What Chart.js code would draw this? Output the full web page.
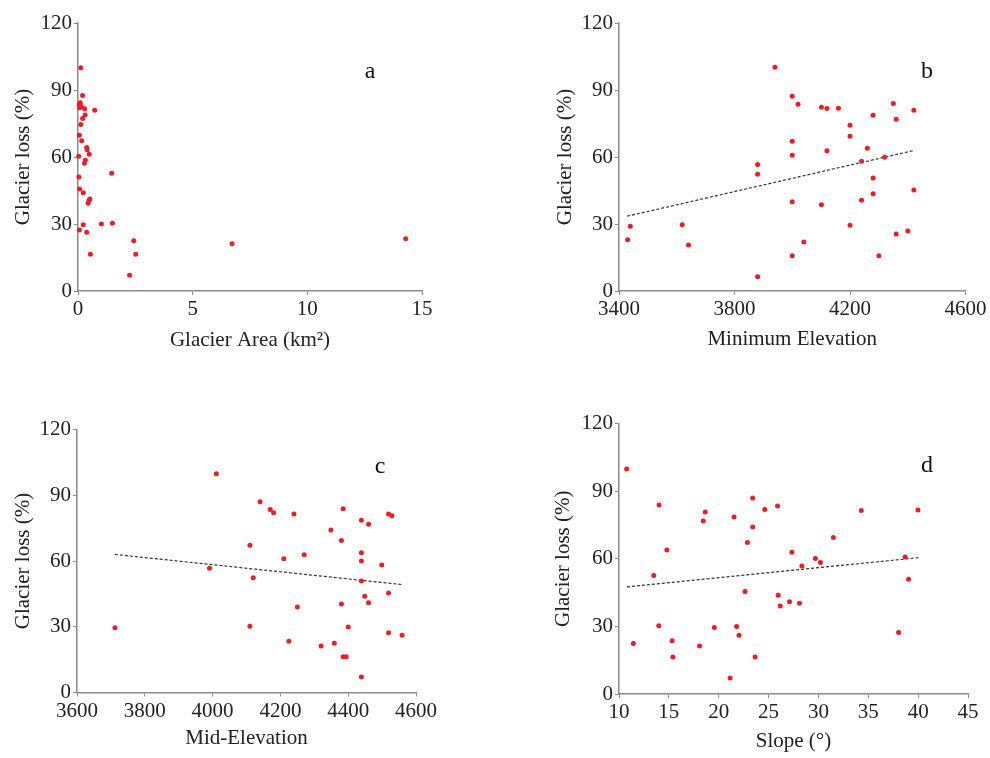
<!DOCTYPE html>
<html>
<head>
<meta charset="utf-8">
<script src="https://cdn.jsdelivr.net/npm/chart.js@4.4.1/dist/chart.umd.min.js"></script>
<style>
  html, body { margin: 0; padding: 0; background: #fff; }
  #wrap { position: relative; width: 990px; height: 758px; }
  canvas { position: absolute; }
</style>
</head>
<body>
<div id="wrap">
  <canvas id="ca" width="495" height="379" style="left:0;top:0"></canvas>
  <canvas id="cb" width="495" height="379" style="left:495px;top:0"></canvas>
  <canvas id="cc" width="495" height="379" style="left:0;top:379px"></canvas>
  <canvas id="cd" width="495" height="379" style="left:495px;top:379px"></canvas>
</div>
<script>
// glacier loss (%) against four glacier attributes
const areaX = [0.12, 0.2, 0.1, 0.05, 0.15, 0.08, 0.29, 0.73, 0.31, 0.2, 0.12, 0.06, 0.16, 0.38, 0.40, 0.49, 0.03, 0.32, 0.28, 1.47, 0.04, 0.07, 0.23, 0.52, 0.48, 0.44, 0.23, 1.02, 1.5, 0.06, 0.38, 2.43, 14.29, 6.72, 0.54, 2.52, 2.25];
const areaLoss = [100, 87.5, 84.3, 83.5, 82.5, 82, 81.6, 80.9, 78.8, 77.2, 74.5, 69.7, 67.3, 64.3, 63.3, 61.2, 60.3, 58.5, 57.2, 52.7, 51, 45.7, 44, 41.2, 40.6, 39.3, 29.7, 30, 30.3, 27.3, 26.3, 22.5, 23.4, 21.2, 16.4, 16.4, 7];

const minElevX = [3940, 4000, 4020, 4350, 4101, 4120, 4160, 4421, 4280, 4360, 4200, 4200, 4000, 4260, 4120, 4000, 4320, 4240, 3880, 3880, 4280, 4421, 4280, 4240, 4000, 4101, 3619, 3439, 4200, 4400, 4360, 3430, 4040, 3641, 4000, 4300, 3880];
const minElevLoss = [100.2, 87.2, 83.6, 83.9, 82.3, 81.7, 81.8, 80.9, 78.7, 76.9, 74.2, 69.3, 67, 63.9, 62.8, 60.8, 59.9, 58.1, 56.6, 52.3, 50.6, 45.2, 43.6, 40.6, 40, 38.6, 29.7, 29, 29.4, 26.9, 25.5, 23, 21.9, 20.6, 15.8, 15.8, 6.4];

const midElevX = [4011, 4140, 4170, 4180, 4240, 4385, 4519, 4529, 4439, 4460, 4349, 4380, 4110, 4439, 4439, 4210, 4270, 4499, 3991, 4120, 4439, 4519, 4449, 4460, 4380, 4250, 4110, 3712, 4400, 4519, 4559, 4225, 4359, 4320, 4385, 4394, 4439];
const midElevLoss = [99.8, 87, 83.5, 82, 81.5, 83.8, 81.4, 80.6, 78.6, 76.8, 74.2, 69.3, 67.2, 63.8, 60, 61, 62.9, 58.2, 56.7, 52.4, 50.9, 45.4, 43.9, 40.9, 40.4, 39, 30.2, 29.6, 29.9, 27.3, 26.1, 23.4, 22.5, 21.2, 16.3, 16.3, 7.1];

const slopeX = [10.77, 23.41, 14.02, 25.9, 24.62, 34.3, 39.98, 18.65, 21.54, 18.45, 23.41, 31.5, 22.88, 14.8, 27.34, 38.7, 29.7, 30.2, 28.34, 13.49, 39.04, 22.64, 25.96, 27.1, 28.1, 26.17, 13.99, 21.8, 19.56, 38.04, 22.04, 15.33, 11.44, 18.08, 15.4, 23.65, 21.14];
const slopeLoss = [99.8, 86.9, 83.8, 83.4, 81.9, 81.4, 81.6, 80.7, 78.5, 76.8, 74.1, 69.4, 67.2, 63.9, 62.9, 60.8, 60.1, 58.3, 56.8, 52.6, 50.9, 45.5, 43.8, 40.9, 40.3, 39, 30.3, 30, 29.5, 27.3, 26.1, 23.6, 22.4, 21.3, 16.4, 16.4, 7.1];

// trend lines (end points)
const fitMinElev = [[3428, 33.5], [4417, 62.8]];
const fitMidElev = [[3712, 63.0], [4561, 49.2]];
const fitSlope = [[10.8, 47.5], [40.1, 60.5]];

const lossTicks = [0, 30, 60, 90, 120];

const FONT = "'Liberation Serif', 'Times New Roman', serif";
const AXIS_GRAY = '#8a8a8a';

// panel letter
const letterPlugin = {
    id: 'letter',
    afterDraw(chart, args, opts) {
        const ctx = chart.ctx;
        ctx.save();
        ctx.font = '24px ' + FONT;
        ctx.fillStyle = '#111';
        ctx.textAlign = 'center';
        ctx.textBaseline = 'middle';
        ctx.fillText(opts.text, opts.x, opts.y);
        ctx.restore();
    }
};

function pts(xs, ys) {
    const out = [];
    for (let i = 0; i < xs.length; i++) out.push({ x: xs[i], y: ys[i] });
    return out;
}

/**
 * draw one panel
 * p: {canvas, xs, ys, fit, xMin, xMax, xStep, xTitle, letter, box...}
 */
function panel(p) {
    const datasets = [{
        type: 'scatter',
        data: pts(p.xs, p.ys),
        backgroundColor: '#ee1c25',
        borderWidth: 0,
        pointRadius: 2.5,
        clip: false
    }];
    if (p.fit) {
        datasets.push({
            type: 'line',
            data: p.fit.map(a => ({ x: a[0], y: a[1] })),
            borderColor: '#333',
            borderWidth: 1.2,
            borderDash: [3, 2],
            pointRadius: 0,
            fill: false
        });
    }
    return new Chart(document.getElementById(p.canvas), {
        type: 'scatter',
        data: { datasets: datasets },
        options: {
            responsive: false,
            animation: false,
            layout: { padding: { left: 0, top: p.top, right: p.right, bottom: 0 } },
            plugins: {
                legend: { display: false },
                tooltip: { enabled: false },
                letter: p.letter
            },
            scales: {
                x: {
                    type: 'linear',
                    min: p.xMin, max: p.xMax,
                    afterFit: s => { s.height = p.xH; },
                    grid: { drawOnChartArea: false, drawTicks: true, tickLength: 4, color: AXIS_GRAY },
                    border: { color: AXIS_GRAY, width: 1.5 },
                    ticks: {
                        stepSize: p.xStep, padding: 2, color: '#222',
                        font: { family: FONT, size: 21 }, maxRotation: 0, autoSkip: false,
                        callback: v => String(v)
                    },
                    title: { display: true, text: p.xTitle, color: '#222', font: { family: FONT, size: 21 }, padding: { top: 0, bottom: p.xTitlePad } }
                },
                y: {
                    min: 0, max: 120,
                    afterFit: s => { s.width = p.yW; },
                    afterBuildTicks: s => { s.ticks = lossTicks.map(v => ({ value: v })); },
                    grid: { drawOnChartArea: false, drawTicks: true, tickLength: 4, color: AXIS_GRAY },
                    border: { color: AXIS_GRAY, width: 1.5 },
                    ticks: { padding: 2, color: '#222', font: { family: FONT, size: 21 }, callback: v => String(v) },
                    title: { display: true, text: 'Glacier loss (%)', color: '#222', font: { family: FONT, size: 21 }, padding: { top: p.yTitlePad, bottom: 0 } }
                }
            }
        },
        plugins: [letterPlugin]
    });
}

panel({
    canvas: 'ca', xs: areaX, ys: areaLoss, fit: null,
    xMin: 0, xMax: 15, xStep: 5, xTitle: 'Glacier Area (km²)',
    top: 23, right: 73, yW: 78, xH: 88, xTitlePad: 26, yTitlePad: 10.4,
    letter: { text: 'a', x: 370, y: 72 }
});
panel({
    canvas: 'cb', xs: minElevX, ys: minElevLoss, fit: fitMinElev,
    xMin: 3400, xMax: 4600, xStep: 400, xTitle: 'Minimum Elevation',
    top: 23, right: 24.5, yW: 124, xH: 88, xTitlePad: 27, yTitlePad: 57.4,
    letter: { text: 'b', x: 432, y: 72 }
});
panel({
    canvas: 'cc', xs: midElevX, ys: midElevLoss, fit: fitMidElev,
    xMin: 3600, xMax: 4600, xStep: 200, xTitle: 'Mid-Elevation',
    top: 50.5, right: 79, yW: 77, xH: 65.5, xTitlePad: 7.4, yTitlePad: 10.4,
    letter: { text: 'c', x: 380, y: 88 }
});
panel({
    canvas: 'cd', xs: slopeX, ys: slopeLoss, fit: fitSlope,
    xMin: 10, xMax: 45, xStep: 5, xTitle: 'Slope (°)',
    top: 44.5, right: 22, yW: 124, xH: 64, xTitlePad: 4.4, yTitlePad: 55.4,
    letter: { text: 'd', x: 432, y: 87 }
});
</script>
</body>
</html>
